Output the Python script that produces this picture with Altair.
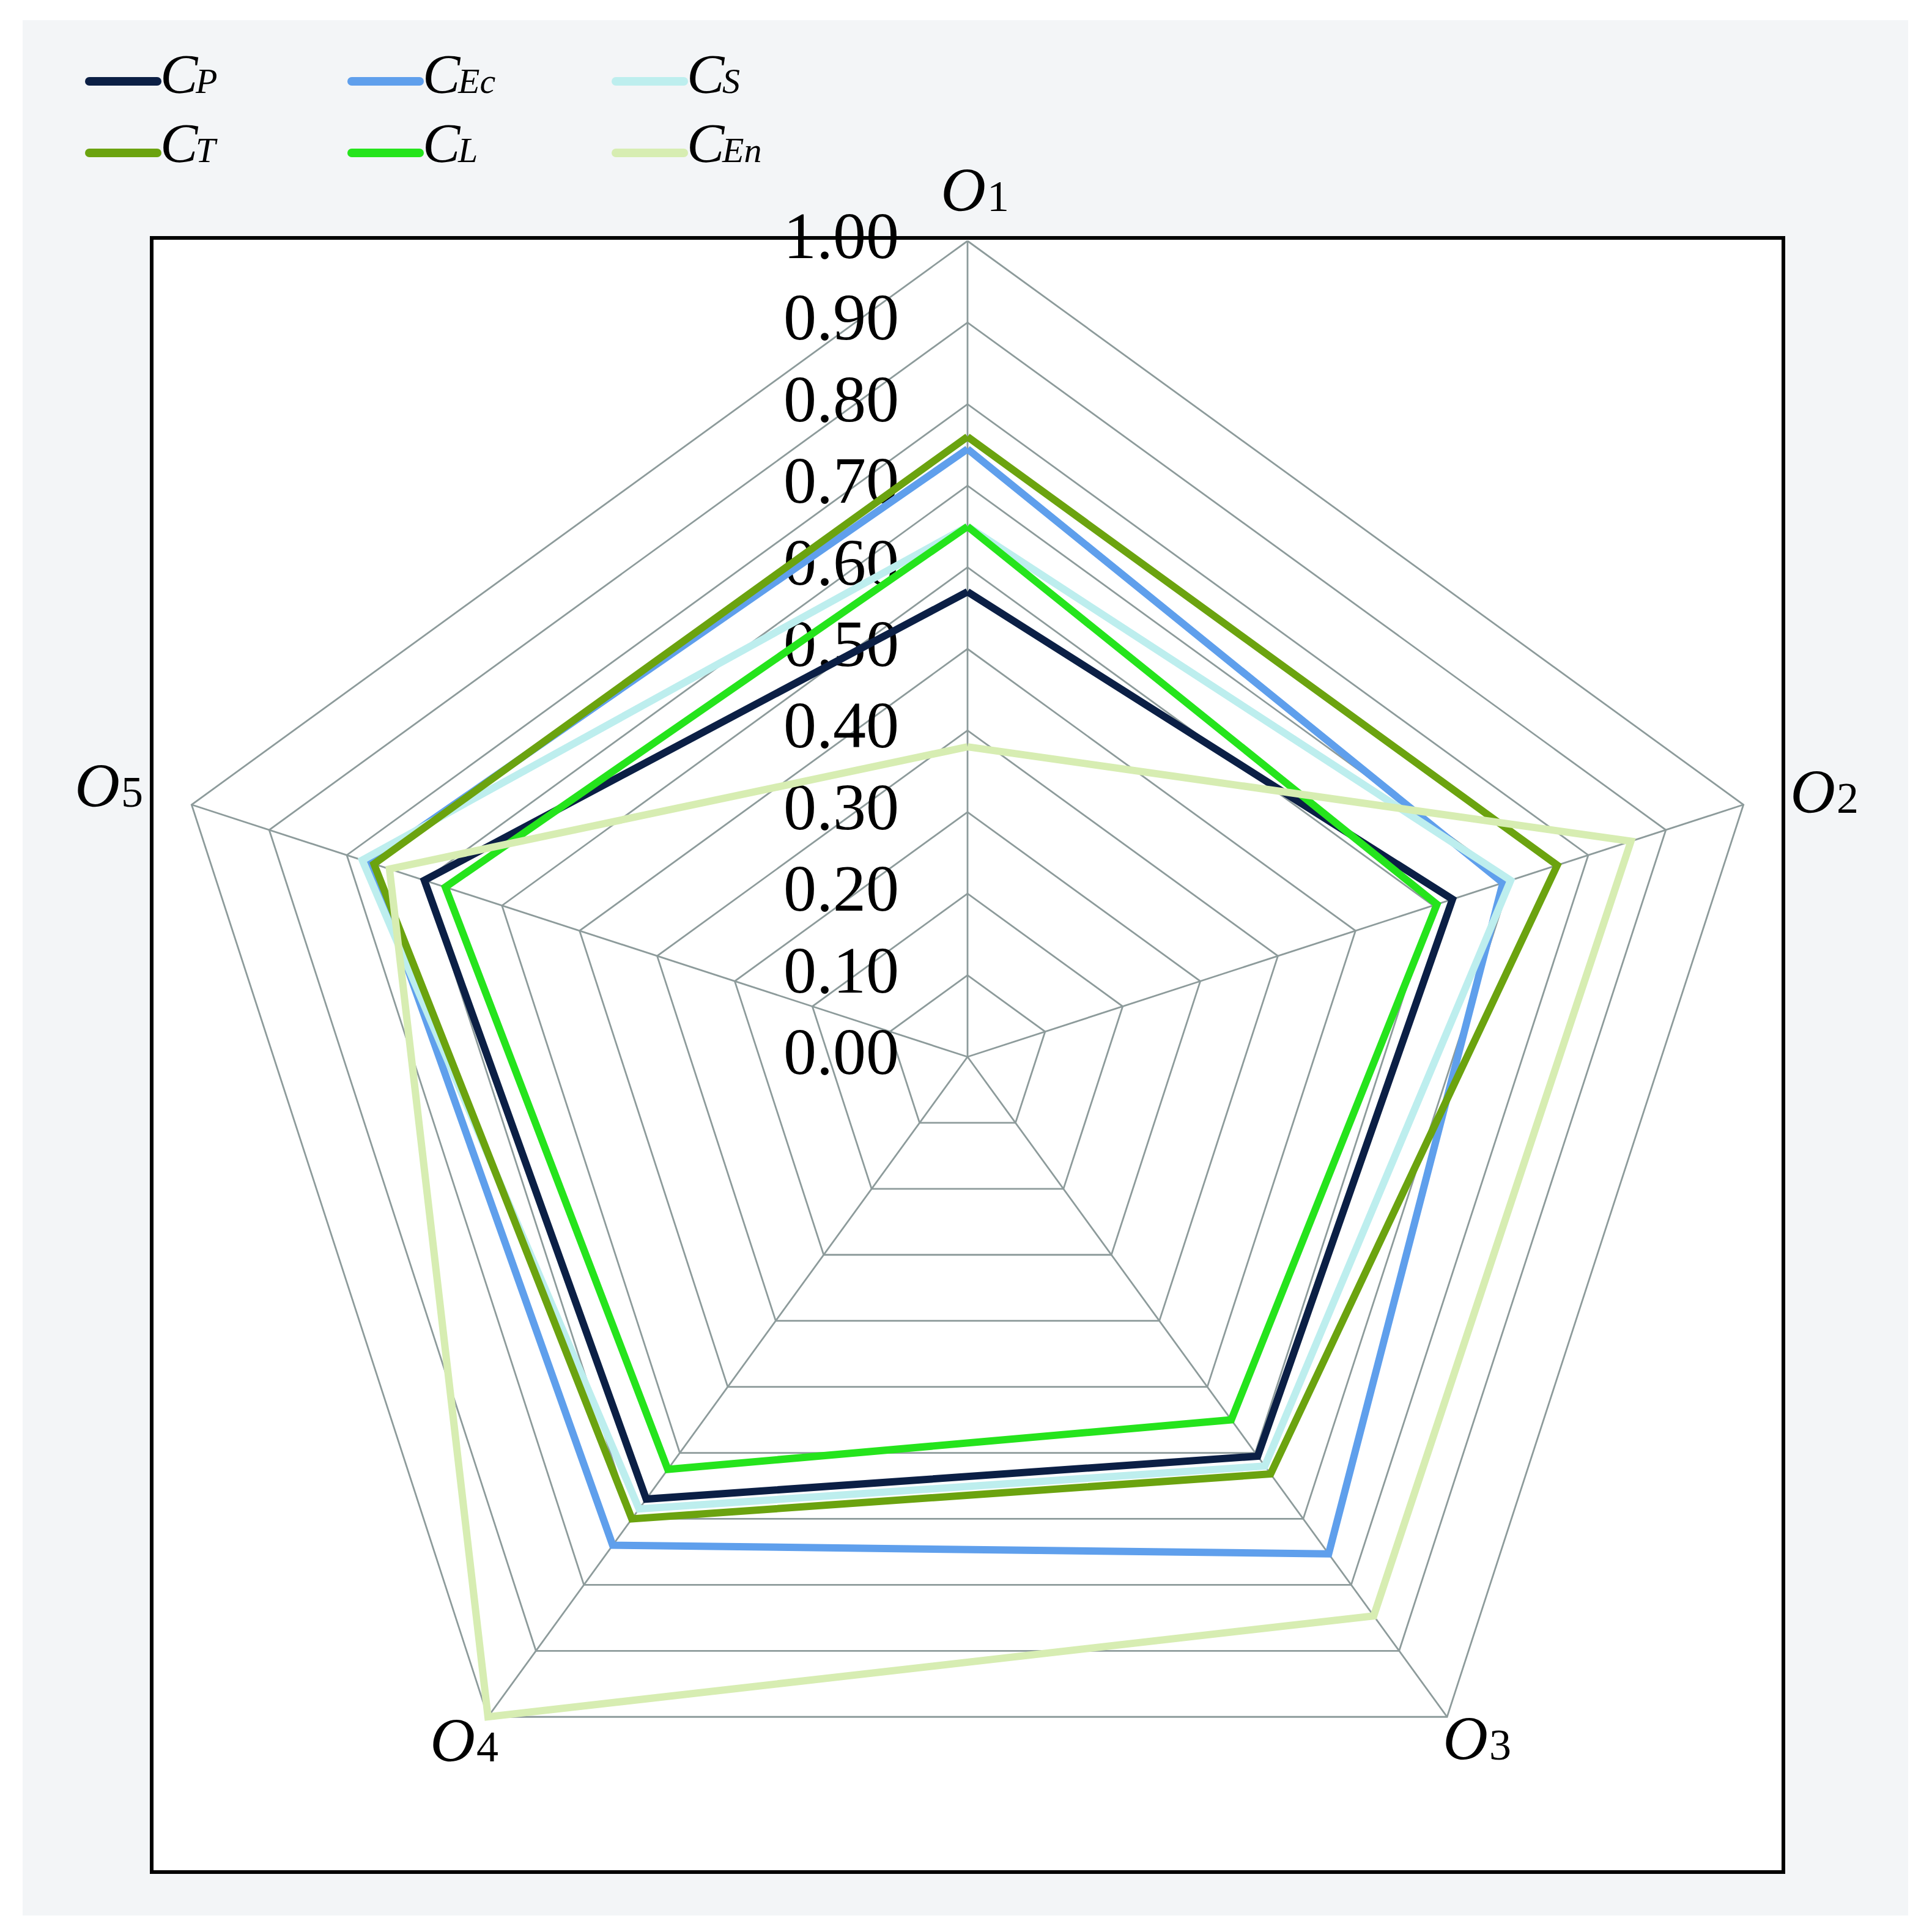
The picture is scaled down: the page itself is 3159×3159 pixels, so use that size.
import math
import altair as alt
import pandas as pd

# ---------------- data ----------------
AXES = ["O1", "O2", "O3", "O4", "O5"]
AXIS_DIGITS = ["1", "2", "3", "4", "5"]
SERIES = ["CP", "CEc", "CS", "CT", "CL", "CEn"]
SUBSCRIPTS = ["P", "Ec", "S", "T", "L", "En"]
COLORS = ["#0b1f45", "#5f9fec", "#bdeeee", "#6ba30f", "#25e41c", "#d7edb2"]

CP = [0.57, 0.625, 0.605, 0.67, 0.70]
CEC = [0.745, 0.69, 0.753, 0.74, 0.77]
CS = [0.65, 0.70, 0.62, 0.685, 0.78]
CT = [0.76, 0.76, 0.632, 0.70, 0.765]
CL = [0.65, 0.605, 0.55, 0.625, 0.673]
CEN = [0.38, 0.855, 0.847, 1.00, 0.745]
VALUES = [CP, CEC, CS, CT, CL, CEN]

TICKS = [0.0, 0.1, 0.2, 0.3, 0.4, 0.5, 0.6, 0.7, 0.8, 0.9, 1.0]
TICK_LABELS = ["0.00", "0.10", "0.20", "0.30", "0.40", "0.50",
               "0.60", "0.70", "0.80", "0.90", "1.00"]

# ---------------- geometry / style ----------------
CX, CY, R = 1582, 1728, 1334
ANGLES = [90, 18, -54, -126, 162]
FONT = "Liberation Serif"
GRID = "#8d9b9b"
LABEL_ANCHORS = [(1612, 345), (3001, 1329), (2433, 2877), (777, 2880), (196, 1319)]
LEG_X = [146, 575, 1007]
LEG_Y = [133, 250]
LEG_BASE = [152, 265]


def pt(v, i):
    a = math.radians(ANGLES[i])
    return CX + v * R * math.cos(a), CY - v * R * math.sin(a)


def xs(field):
    return alt.X(field, scale=alt.Scale(domain=[8, 3151], nice=False, zero=False), axis=None)


def ys(field):
    return alt.Y(field, scale=alt.Scale(domain=[8, 3151], nice=False, zero=False, reverse=True), axis=None)


X = xs("x:Q")
Y = ys("y:Q")
X2 = alt.X2("x2:Q")
Y2 = alt.Y2("y2:Q")

layers = []

# backgrounds
bg = pd.DataFrame([{"x": 37, "x2": 3120, "y": 33, "y2": 3132}])
layers.append(alt.Chart(bg).mark_rect(color="#f3f5f7").encode(x=X, x2=X2, y=Y, y2=Y2))
box = pd.DataFrame([{"x": 248, "x2": 2916, "y": 389, "y2": 3061}])
layers.append(alt.Chart(box).mark_rect(fill="white", stroke="black", strokeWidth=6).encode(
    x=X, x2=X2, y=Y, y2=Y2))

# grid pentagons
grid_rows = []
for t in TICKS[1:]:
    for k in range(6):
        x, y = pt(t, k % 5)
        grid_rows.append({"level": t, "k": k, "x": x, "y": y})
layers.append(alt.Chart(pd.DataFrame(grid_rows)).mark_line(
    color=GRID, strokeWidth=2.8, strokeJoin="miter").encode(
    x=X, y=Y, detail="level:N", order="k:Q"))

# spokes
spoke_rows = []
for i in range(5):
    x2, y2 = pt(1.0, i)
    spoke_rows.append({"x": CX, "y": CY, "x2": x2, "y2": y2})
layers.append(alt.Chart(pd.DataFrame(spoke_rows)).mark_rule(
    color=GRID, strokeWidth=2.8).encode(x=X, y=Y, x2=X2, y2=Y2))

# tick labels
tick_df = pd.DataFrame({"x": [1470] * len(TICKS),
                        "y": [CY - t * R for t in TICKS],
                        "label": TICK_LABELS})
layers.append(alt.Chart(tick_df).mark_text(
    font=FONT, fontSize=108, align="right", baseline="middle", dy=-4, color="black").encode(
    x=X, y=Y, text="label:N"))

# series polygons
for name, vals, col in zip(SERIES, VALUES, COLORS):
    rows = []
    for k in range(6):
        x, y = pt(vals[k % 5], k % 5)
        rows.append({"series": name, "k": k, "x": x, "y": y, "v": vals[k % 5]})
    layers.append(alt.Chart(pd.DataFrame(rows)).mark_line(
        color=col, strokeWidth=12, strokeJoin="miter").encode(
        x=X, y=Y, order="k:Q"))

# axis labels
lab_df = pd.DataFrame({"x": [a[0] for a in LABEL_ANCHORS],
                       "y": [a[1] for a in LABEL_ANCHORS],
                       "o": ["O"] * 5, "d": AXIS_DIGITS})
layers.append(alt.Chart(lab_df).mark_text(
    font=FONT, fontSize=102, fontStyle="italic", align="right", baseline="alphabetic",
    color="black").encode(x=X, y=Y, text="o:N"))
layers.append(alt.Chart(lab_df).mark_text(
    font=FONT, fontSize=72, align="left", baseline="alphabetic", dx=2,
    color="black").encode(x=X, y=Y, text="d:N"))

# legend
leg_rows = []
for i, (name, sub, col) in enumerate(zip(SERIES, SUBSCRIPTS, COLORS)):
    r, c = i // 3, i % 3
    leg_rows.append({"series": name, "sub": sub, "C": "C",
                     "x": LEG_X[c], "x2": LEG_X[c] + 111, "y": LEG_Y[r],
                     "tx": LEG_X[c] + 116, "ty": LEG_BASE[r]})
leg_df = pd.DataFrame(leg_rows)
color_scale = alt.Scale(domain=SERIES, range=COLORS)
layers.append(alt.Chart(leg_df).mark_rule(strokeWidth=14, strokeCap="round").encode(
    x=X, x2=X2, y=Y, color=alt.Color("series:N", scale=color_scale, legend=None)))
layers.append(alt.Chart(leg_df).mark_text(
    font=FONT, fontSize=92, fontStyle="italic", align="left", baseline="alphabetic",
    color="black").encode(x=xs("tx:Q"), y=ys("ty:Q"), text="C:N"))
layers.append(alt.Chart(leg_df).mark_text(
    font=FONT, fontSize=58, fontStyle="italic", align="left", baseline="alphabetic", dx=58,
    color="black").encode(x=xs("tx:Q"), y=ys("ty:Q"), text="sub:N"))

chart = alt.layer(*layers).properties(
    width=3143, height=3143, padding=0, autosize=alt.AutoSizeParams(type="none"),
    background="white"
).configure_view(stroke=None)

chart.save("out.html", embed_options={"renderer": "svg", "actions": False})
